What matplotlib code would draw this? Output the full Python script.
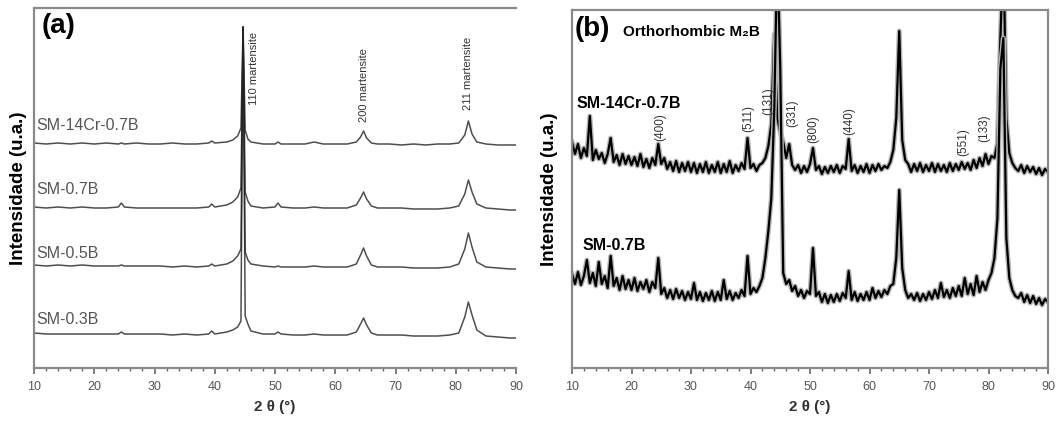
import numpy as np
import matplotlib
matplotlib.use('Agg')
import matplotlib.pyplot as plt
from matplotlib.ticker import MultipleLocator

plt.rcParams['font.family'] = ['Liberation Sans', 'DejaVu Sans']

# ---- panel (a): DRX das amostras, intensidade em unidades arbitrarias ----
two_theta_a = [10, 12, 14, 16, 18, 20, 22, 24, 24.5, 25,
               27, 29, 31, 33, 35, 37, 39, 39.5, 40, 42,
               43, 43.8, 44.35, 44.7, 45.05, 45.5, 46, 48, 50, 50.5,
               51, 53, 55, 56.5, 58, 60, 62, 63.5, 64.2, 64.7,
               65.2, 66, 67, 69, 71, 73, 75, 77, 79, 80.5,
               81.5, 82.1, 82.7, 83.5, 85, 87, 89, 90]

sm_14cr_07b = [225, 224, 225, 224, 225, 224, 225, 224, 225, 224,
               225, 224, 224, 225, 224, 224, 225, 227, 225, 226,
               228, 232, 240, 341, 238, 229, 226, 224, 224, 226,
               224, 224, 224, 226, 224, 224, 224, 226, 231, 237,
               230, 225, 224, 224, 223, 224, 223, 224, 224, 225,
               233, 247, 234, 226, 224, 223, 223, 223]
sm_07b = [161, 160, 161, 160, 161, 160, 160, 161, 165, 161,
          160, 160, 160, 160, 160, 160, 161, 164, 161, 163,
          166, 171, 180, 341, 176, 167, 162, 160, 161, 165,
          161, 160, 160, 161, 160, 160, 160, 163, 170, 176,
          169, 162, 160, 160, 160, 159, 159, 159, 160, 162,
          174, 188, 176, 164, 160, 159, 158, 158]
sm_05b = [103, 102, 103, 102, 103, 102, 102, 102, 103, 102,
          102, 102, 102, 101, 102, 101, 102, 104, 102, 104,
          107, 112, 119, 341, 116, 108, 104, 102, 101, 102,
          101, 101, 101, 102, 101, 101, 101, 104, 113, 120,
          112, 103, 101, 101, 101, 100, 100, 100, 101, 104,
          119, 135, 121, 106, 101, 100, 99, 99]
sm_03b = [35, 34, 34, 34, 34, 34, 34, 34, 36, 34,
          34, 34, 34, 33, 34, 33, 34, 37, 34, 36,
          38, 41, 47, 341, 52, 44, 37, 34, 34, 36,
          34, 33, 33, 34, 33, 33, 33, 36, 44, 50,
          43, 35, 33, 33, 33, 32, 32, 32, 33, 35,
          51, 66, 53, 38, 32, 31, 30, 30]

labels_a = ['SM-14Cr-0.7B', 'SM-0.7B', 'SM-0.5B', 'SM-0.3B']
label_y_a = [243, 179, 115, 48]
peaks_a = ['110 martensite', '200 martensite', '211 martensite']
peaks_a_x = [46.5, 64.7, 82.1]
peaks_a_y = [300, 283, 295]

# ---- panel (b): detalhe, fase M2B ortorrombica ----
two_theta_b = np.arange(10, 90.25, 0.5)

b_14cr_07b = [226, 214, 224, 210, 220, 212, 252, 208, 218, 209,
              215, 205, 214, 230, 206, 213, 203, 214, 204, 212,
              203, 211, 202, 214, 201, 209, 200, 210, 203, 224,
              204, 210, 199, 206, 197, 207, 196, 205, 197, 206,
              196, 205, 195, 204, 196, 206, 195, 203, 196, 206,
              195, 204, 196, 207, 195, 203, 197, 205, 199, 230,
              200, 204, 197, 203, 205, 210, 222, 244, 334, 250,
              236, 226, 210, 224, 203, 198, 203, 195, 202, 196,
              204, 220, 198, 202, 194, 201, 195, 202, 196, 203,
              195, 202, 199, 229, 197, 203, 195, 202, 196, 204,
              195, 203, 197, 204, 198, 202, 200, 206, 218, 250,
              337, 228, 208, 204, 196, 204, 197, 205, 196, 203,
              197, 205, 196, 204, 197, 203, 196, 205, 197, 204,
              198, 206, 199, 205, 198, 208, 200, 210, 202, 214,
              204, 212, 210, 225, 330, 420, 250, 215, 205, 200,
              197, 203, 195, 202, 196, 201, 194, 200, 193, 199,
              196]
b_07b = [94, 84, 96, 83, 92, 108, 85, 95, 82, 106,
         84, 92, 80, 112, 82, 90, 78, 92, 79, 88,
         78, 90, 77, 86, 79, 88, 76, 86, 80, 110,
         74, 80, 70, 78, 69, 79, 70, 77, 68, 76,
         69, 85, 68, 76, 67, 75, 68, 77, 67, 76,
         68, 88, 69, 77, 68, 75, 70, 78, 72, 112,
         74, 80, 76, 82, 90, 110, 137, 170, 260, 420,
         300, 95, 84, 88, 77, 82, 72, 78, 70, 77,
         74, 120, 72, 76, 66, 74, 65, 73, 66, 74,
         67, 75, 70, 97, 68, 76, 67, 74, 68, 76,
         68, 80, 70, 77, 71, 78, 74, 82, 84, 110,
         178, 100, 78, 70, 74, 68, 75, 67, 74, 68,
         76, 69, 78, 70, 85, 71, 78, 70, 80, 72,
         82, 72, 90, 74, 84, 73, 92, 76, 86, 78,
         88, 95, 110, 150, 300, 330, 130, 90, 78, 72,
         70, 75, 66, 73, 65, 72, 64, 70, 63, 69,
         66]

labels_b = ['SM-14Cr-0.7B', 'SM-0.7B']
label_b_x = [10.8, 11.7]
label_b_y = [265, 123]
hkl_b = ['(400)', '(511)', '(131)', '(331)', '(800)', '(440)', '(551)', '(133)']
hkl_b_x = [24.8, 39.6, 42.9, 47.0, 50.6, 56.6, 75.8, 79.3]
hkl_b_y = [241, 250, 267, 255, 239, 247, 226, 240]

W, H = 1060., 423.
fig = plt.figure(figsize=(W/100, H/100), dpi=100)
ax1 = fig.add_axes([34/W, 55/H, 482/W, 360/H])
ax2 = fig.add_axes([572/W, 55/H, 476/W, 358/H])


def style_axes(ax, ymax, ypad):
    ax.set_xlim(10, 90)
    ax.set_ylim(0, ymax)
    ax.xaxis.set_major_locator(MultipleLocator(10))
    ax.xaxis.set_minor_locator(MultipleLocator(2))
    ax.set_yticks([])
    ax.tick_params(axis='x', which='major', direction='out', length=4.5, width=1.2,
                   color='#666666', labelsize=9, labelcolor='#555555', pad=5)
    ax.tick_params(axis='x', which='minor', direction='out', length=2.5, width=1.0,
                   color='#666666')
    for s in ax.spines.values():
        s.set_color('#8a8a8a')
        s.set_linewidth(1.6)
    ax.set_xlabel('2 θ (°)', fontsize=11, fontweight='bold', color='#333333', labelpad=5)
    ax.set_ylabel('Intensidade (u.a.)', fontsize=13.5, fontweight='bold', labelpad=ypad)


style_axes(ax1, 360, 5)
ax1.spines['right'].set_visible(False)
for yy in [sm_14cr_07b, sm_07b, sm_05b, sm_03b]:
    ax1.plot(two_theta_a, yy, color='#222222', lw=1.1, alpha=0.8)
for lab, ly in zip(labels_a, label_y_a):
    ax1.text(10.4, ly, lab, fontsize=11.5, color='#555555', ha='left', va='center')
for lab, px, py in zip(peaks_a, peaks_a_x, peaks_a_y):
    ax1.text(px, py, lab, rotation=90, fontsize=8, color='#333333',
             ha='center', va='center')
ax1.text(11.3, 342, '(a)', fontsize=20, fontweight='bold', ha='left', va='center')

style_axes(ax2, 358, 10)
# noisy scans: grey halo under a heavy black trace
for yy in [b_14cr_07b, b_07b]:
    ax2.plot(two_theta_b, yy, color='#b5b5b5', lw=3.6, solid_joinstyle='round')
    ax2.plot(two_theta_b, yy, color='black', lw=1.6)
for lab, lx, ly in zip(labels_b, label_b_x, label_b_y):
    ax2.text(lx, ly, lab, fontsize=11.5, fontweight='bold', ha='left', va='center')
for lab, px, py in zip(hkl_b, hkl_b_x, hkl_b_y):
    ax2.text(px, py, lab, rotation=90, fontsize=8.5, color='#333333',
             ha='center', va='center')
ax2.text(10.5, 339, '(b)', fontsize=20, fontweight='bold', ha='left', va='center')
ax2.text(18.6, 336, 'Orthorhombic M\u2082B', fontsize=11, fontweight='bold',
         ha='left', va='center')

fig.savefig('out.png', dpi=100)
